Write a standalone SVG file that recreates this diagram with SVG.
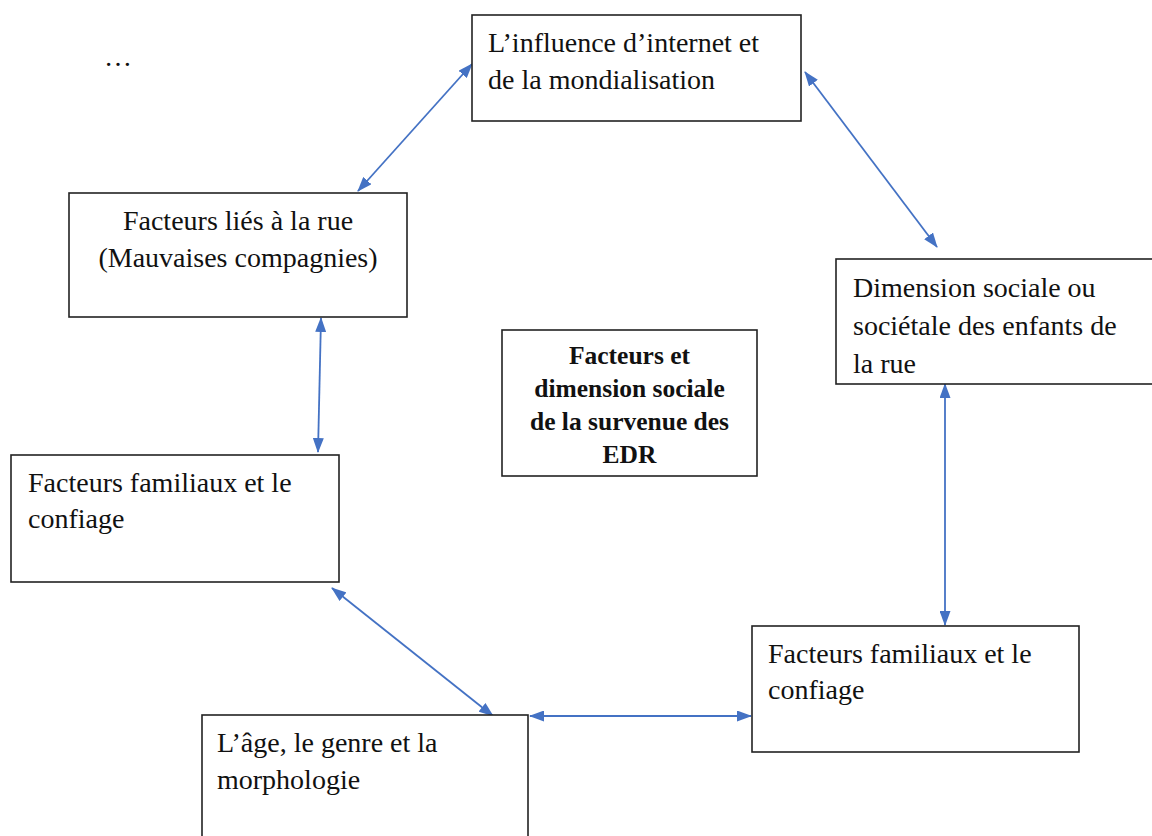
<svg xmlns="http://www.w3.org/2000/svg" width="1152" height="836" viewBox="0 0 1152 836">
<defs>
<style>
.box{fill:#fff;stroke:#222;stroke-width:1.6}
.t{font-family:"Liberation Serif","Times New Roman",serif;font-size:28px;fill:#111}
.b{font-family:"Liberation Serif","Times New Roman",serif;font-size:25.5px;font-weight:bold;fill:#111;text-anchor:middle}
.c{text-anchor:middle}
.arr{stroke:#4472C4;stroke-width:1.8;fill:none;marker-start:url(#ah);marker-end:url(#ah)}
</style>
<marker id="ah" viewBox="0 0 15 11" refX="14" refY="5.5" markerWidth="15" markerHeight="11" markerUnits="userSpaceOnUse" orient="auto-start-reverse">
<path d="M0,0 L15,5.5 L0,11 z" fill="#4472C4"/>
</marker>
</defs>
<rect width="1152" height="836" fill="#fff"/>
<text class="t" x="104" y="66" font-size="26">…</text>
<g id="connectors">
<line class="arr" x1="358" y1="191" x2="472" y2="64"/>
<line class="arr" x1="805" y1="72" x2="937" y2="247"/>
<line class="arr" x1="321" y1="318" x2="318" y2="452"/>
<line class="arr" x1="945" y1="384" x2="945" y2="625"/>
<line class="arr" x1="332" y1="588" x2="493" y2="716"/>
<line class="arr" x1="530" y1="716" x2="751" y2="716"/>
</g>
<g id="n-internet">
<rect class="box" x="472" y="15" width="329" height="106"/>
<text class="t" x="488" y="52">L’influence d’internet et</text>
<text class="t" x="488" y="89">de la mondialisation</text>
</g>
<g id="n-rue">
<rect class="box" x="69" y="193" width="338" height="124"/>
<text class="t c" x="238" y="230">Facteurs liés à la rue</text>
<text class="t c" x="238" y="267">(Mauvaises compagnies)</text>
</g>
<g id="n-dimension">
<rect class="box" x="836" y="259" width="330" height="125"/>
<text class="t" x="853" y="297">Dimension sociale ou</text>
<text class="t" x="853" y="335">sociétale des enfants de</text>
<text class="t" x="853" y="373">la rue</text>
</g>
<g id="n-centre">
<rect class="box" x="502" y="330" width="255" height="146"/>
<text class="b" x="629.5" y="364">Facteurs et</text>
<text class="b" x="629.5" y="397">dimension sociale</text>
<text class="b" x="629.5" y="430">de la survenue des</text>
<text class="b" x="629.5" y="463">EDR</text>
</g>
<g id="n-familiaux-gauche">
<rect class="box" x="11" y="455" width="328" height="127"/>
<text class="t" x="28" y="492">Facteurs familiaux et le</text>
<text class="t" x="28" y="528">confiage</text>
</g>
<g id="n-age">
<rect class="box" x="202" y="715" width="326" height="140"/>
<text class="t" x="217" y="752">L’âge, le genre et la</text>
<text class="t" x="217" y="789">morphologie</text>
</g>
<g id="n-familiaux-droite">
<rect class="box" x="752" y="626" width="327" height="126"/>
<text class="t" x="768" y="663">Facteurs familiaux et le</text>
<text class="t" x="768" y="699">confiage</text>
</g>
</svg>
